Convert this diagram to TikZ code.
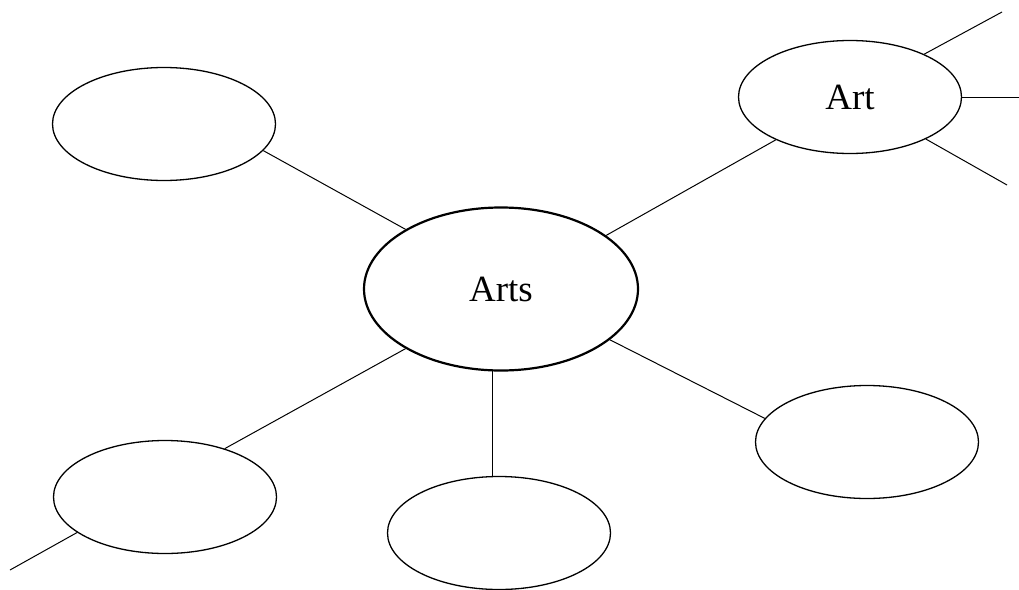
\documentclass[tikz,border=0pt]{standalone}
\usepackage{fontspec}
\setmainfont{Liberation Serif}
\usetikzlibrary{shapes.geometric,positioning}

\begin{document}
\begin{tikzpicture}[x=1pt,y=-1pt,line width=1pt,every node/.style={font=\fontsize{37}{40}\selectfont},topic/.style={ellipse,draw,line width=1.3pt,inner sep=0pt,minimum width=223pt,minimum height=113pt},hub/.style={ellipse,draw,line width=2.2pt,inner sep=0pt,minimum width=274pt,minimum height=163pt}]
	\useasboundingbox (0,0) rectangle (1019,589);

	\node[hub] (arts) at (501,289) {Arts};
	\node[topic] (tl) at (164,124) {};
	\node[topic] (art) at (850,97) {Art};
	\node[topic] (r) at (867,442) {};
	\node[topic] (bl) at (165,497) {};
	\node[topic] (bc) at (499,533) {};

	\coordinate (bl out) at (10,570);
	\coordinate (art out1) at (1002,12);
	\coordinate (art out2) at (1019,97);
	\coordinate (art out3) at (1007,185);

	\draw (tl.-15) -- (arts.148);
	\draw (art.210) -- (arts.27);
	\draw (arts.-25) -- (r.167);
	\draw (arts.212) -- (bl.39);
	\draw (arts.-96) -- (arts.-96 |- bc.north);
	\draw (bl.202) -- (bl out);
	\draw (art.30) -- (art out1);
	\draw (art.east) -- (art.east -| art out2);
	\draw (art.-29) -- (art out3);
\end{tikzpicture}
\end{document}
